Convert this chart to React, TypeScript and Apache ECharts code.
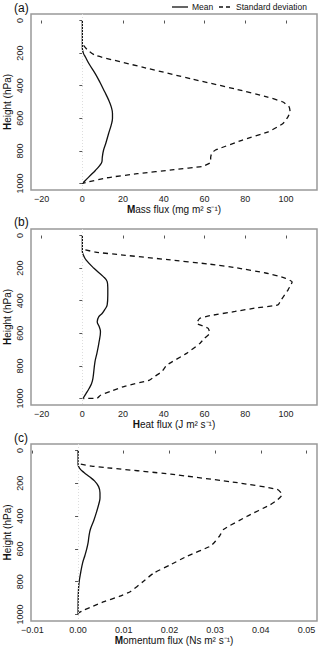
import React, { useEffect, useRef } from "react";
import * as echarts from "echarts";

// Pressure levels (hPa) and values
const massMeanP = [0, 100, 170, 200, 224, 270, 327, 380, 436, 490, 530, 570, 600, 640, 693, 750, 796, 840, 868, 890, 920, 950, 975, 1000];
const massMeanV = [0, 0, 0, 0.5, 1.5, 3.5, 6.4, 8.7, 10.9, 13, 14.2, 14.8, 14.8, 14.2, 12.9, 11.6, 10.4, 9.8, 9.6, 8.5, 6.4, 4, 2, 0];
const massStdP = [152, 180, 214, 286, 358, 420, 470, 500, 530, 560, 590, 632, 683, 735, 796, 815, 840, 870, 895, 915, 940, 965, 990, 1000];
const massStdV = [0.6, 2.5, 6.4, 29.5, 53.5, 75, 91, 98.5, 101.5, 102, 101, 98.5, 91.3, 78.3, 65.2, 63.5, 63, 63, 59, 45, 27, 12, 3, 0];

const heatMeanP = [0, 98, 120, 150, 201, 252, 283, 320, 365, 426, 455, 477, 498, 529, 560, 590, 662, 720, 775, 877, 910, 939, 970, 1000];
const heatMeanV = [0, 0, 0.5, 1.8, 5.7, 10.3, 12.2, 12.5, 12.5, 12.2, 11, 9.8, 8.1, 7.3, 8.3, 8.9, 8.1, 7.2, 6.2, 5.2, 4.5, 3.3, 1.8, 0.3];
const heatStdP = [88, 102, 120, 148, 175, 199, 230, 261, 285, 300, 333, 396, 426, 445, 466, 492, 508, 539, 555, 570, 600, 630, 662, 723, 795, 836, 862, 887, 924, 955, 980, 998, 1000];
const heatStdV = [1.5, 6.5, 20, 42, 62, 76, 90, 99.5, 103, 102.5, 101, 97.6, 96, 85, 75, 62.6, 57.7, 56.1, 59, 61.8, 62.6, 60, 57.7, 51.2, 41.5, 39, 35.8, 33, 21.1, 14, 8.9, 7.3, 0.5];

const momMeanP = [0, 85, 110, 134, 160, 185, 220, 257, 290, 320, 370, 422, 480, 520, 562, 600, 640, 685, 740, 809, 880, 1000];
const momMeanV = [0, 0, 0.0004, 0.0013, 0.0025, 0.0036, 0.0045, 0.0048, 0.0048, 0.0046, 0.0041, 0.0035, 0.0027, 0.0024, 0.0022, 0.0019, 0.0015, 0.001, 0.0006, 0.0002, 0.00005, 0];
const momStdP = [83, 95, 103, 144, 196, 237, 268, 300, 330, 401, 480, 520, 552, 583, 644, 700, 747, 800, 860, 890, 922, 950, 973, 990];
const momStdV = [0.0006, 0.003, 0.0057, 0.0203, 0.0349, 0.0436, 0.0447, 0.0437, 0.0421, 0.037, 0.0319, 0.031, 0.0301, 0.029, 0.0239, 0.02, 0.0166, 0.0142, 0.0115, 0.009, 0.0057, 0.0033, 0.0013, 0.0001];

const heightTicks = [0, 200, 400, 600, 800, 1000];
const fluxTicks = [-20, 0, 20, 40, 60, 80, 100];
const momTicks = [-0.01, 0, 0.01, 0.02, 0.03, 0.04, 0.05];

const panelLabels = ["(a)", "(b)", "(c)"];
const legendNames = ["Mean", "Standard deviation"];
const yName = "{b|H}eight (hPa)";
const xNames = [
  "{b|M}ass flux (mg m² s⁻¹)",
  "{b|H}eat flux (J m² s⁻¹)",
  "{b|M}omentum flux (Ns m² s⁻¹)",
];

const FONT = "Liberation Sans, Arial, Helvetica, sans-serif";

const pairs = (v: number[], p: number[]) => v.map((x, i) => [x, p[i]]);

export default function App() {
  const ref = useRef<HTMLDivElement>(null);
  useEffect(() => {
    if (!ref.current) return;
    const chart = echarts.init(ref.current, undefined, { renderer: "svg" });
    const grids = [
      { left: 31, right: 3, top: 14, height: 176 },
      { left: 31, right: 3, top: 229, height: 176 },
      { left: 31, right: 3, top: 444, height: 177 },
    ];
    const fmtMinus = (v: number, d: number) => {
      const s = Math.abs(v) < 1e-12 ? (0).toFixed(d) : Math.abs(v).toFixed(d);
      return v < -1e-12 ? "−" + s : s;
    };
    const rich = { b: { fontSize: 10, fontWeight: "bold", fill: "#111", color: "#111", fontFamily: FONT } };
    const xAxes = [0, 1, 2].map((i) => {
      const isMom = i === 2;
      return {
        type: "value",
        gridIndex: i,
        min: isMom ? -0.0103 : -25.2,
        max: isMom ? 0.0523 : 115.2,
        axisLine: { show: false },
        splitLine: { show: false },
        axisTick: {
          show: true,
          inside: false,
          length: 3,
          lineStyle: { color: "#555" },
          customValues: isMom ? momTicks : fluxTicks,
        },
        axisLabel: {
          show: true,
          margin: 4,
          fontSize: 9,
          color: "#222",
          fontFamily: FONT,
          customValues: isMom ? momTicks : fluxTicks,
          formatter: (v: number) => fmtMinus(v, isMom ? 2 : 0),
        },
        name: xNames[i],
        nameLocation: "middle",
        nameGap: 14,
        nameTextStyle: { fontSize: 10, color: "#111", fontFamily: FONT, rich },
      };
    });
    const yAxes = [0, 1, 2].map((i) => ({
      type: "value",
      gridIndex: i,
      inverse: true,
      min: -40,
      max: 1040,
      axisLine: { show: false },
      splitLine: { show: false },
      axisTick: {
        show: true,
        inside: false,
        length: 3,
        lineStyle: { color: "#555" },
        customValues: heightTicks,
      },
      axisLabel: {
        show: true,
        rotate: 90,
        margin: 7,
        fontSize: 9,
        color: "#222",
        fontFamily: FONT,
        customValues: heightTicks,
        formatter: (v: number) => String(v),
      },
    }));
    const data = [
      [pairs(massMeanV, massMeanP), pairs(massStdV, massStdP)],
      [pairs(heatMeanV, heatMeanP), pairs(heatStdV, heatStdP)],
      [pairs(momMeanV, momMeanP), pairs(momStdV, momStdP)],
    ];
    const series: any[] = [];
    data.forEach((d, i) => {
      series.push({
        type: "line",
        name: legendNames[0],
        xAxisIndex: i,
        yAxisIndex: i,
        data: d[0],
        symbol: "none",
        smooth: 0.4,
        lineStyle: { color: "#111", width: 1.3, type: "solid" },
        itemStyle: { color: "#111" },
        markLine: {
          silent: true,
          symbol: "none",
          label: { show: false },
          lineStyle: { color: "#ddd", type: [1, 2], width: 1 },
          data: [{ xAxis: 0 }],
        },
      });
      series.push({
        type: "line",
        name: legendNames[1],
        xAxisIndex: i,
        yAxisIndex: i,
        data: d[1],
        symbol: "none",
        smooth: 0.15,
        lineStyle: { color: "#111", width: 1.3, type: [5, 4] },
        itemStyle: { color: "#111" },
      });
    });
    const legendGraphic: any[] = [
      { type: "line", shape: { x1: 172, y1: 7, x2: 188, y2: 7 }, style: { stroke: "#111", lineWidth: 1.3 } },
      { type: "text", x: 192, y: 7, style: { text: legendNames[0], fontSize: 8.5, fill: "#111", fontFamily: FONT, verticalAlign: "middle" } },
      { type: "line", shape: { x1: 219, y1: 7, x2: 230, y2: 7 }, style: { stroke: "#111", lineWidth: 1.3, lineDash: [4, 3] } },
      { type: "text", x: 236, y: 7, style: { text: legendNames[1], fontSize: 8.5, fill: "#111", fontFamily: FONT, verticalAlign: "middle" } },
    ];
    const yNameGraphic: any[] = grids.map((g) => ({
      type: "text",
      x: 7.5,
      y: g.top + g.height / 2,
      rotation: Math.PI / 2,
      style: {
        text: yName,
        fontSize: 10,
        fill: "#111",
        fontFamily: FONT,
        align: "center",
        verticalAlign: "middle",
        rich,
      },
    }));
    chart.setOption({
      animation: false,
      backgroundColor: "#fff",
      grid: grids.map((g) => ({ ...g, outerBoundsMode: "none", containLabel: false, show: true, borderColor: "#999", borderWidth: 1.5, backgroundColor: "transparent" })),
      xAxis: xAxes,
      yAxis: yAxes,
      graphic: [
        ...panelLabels.map((t, i) => ({
          type: "text",
          left: 14,
          top: [2, 216, 432][i],
          style: { text: t, fontSize: 12, fill: "#111", fontFamily: FONT },
        })),
        ...legendGraphic,
        ...yNameGraphic,
      ],
      series,
    });
    return () => chart.dispose();
  }, []);
  return <div ref={ref} style={{ position: "fixed", left: 0, top: 0, width: 320, height: 649 }} />;
}
